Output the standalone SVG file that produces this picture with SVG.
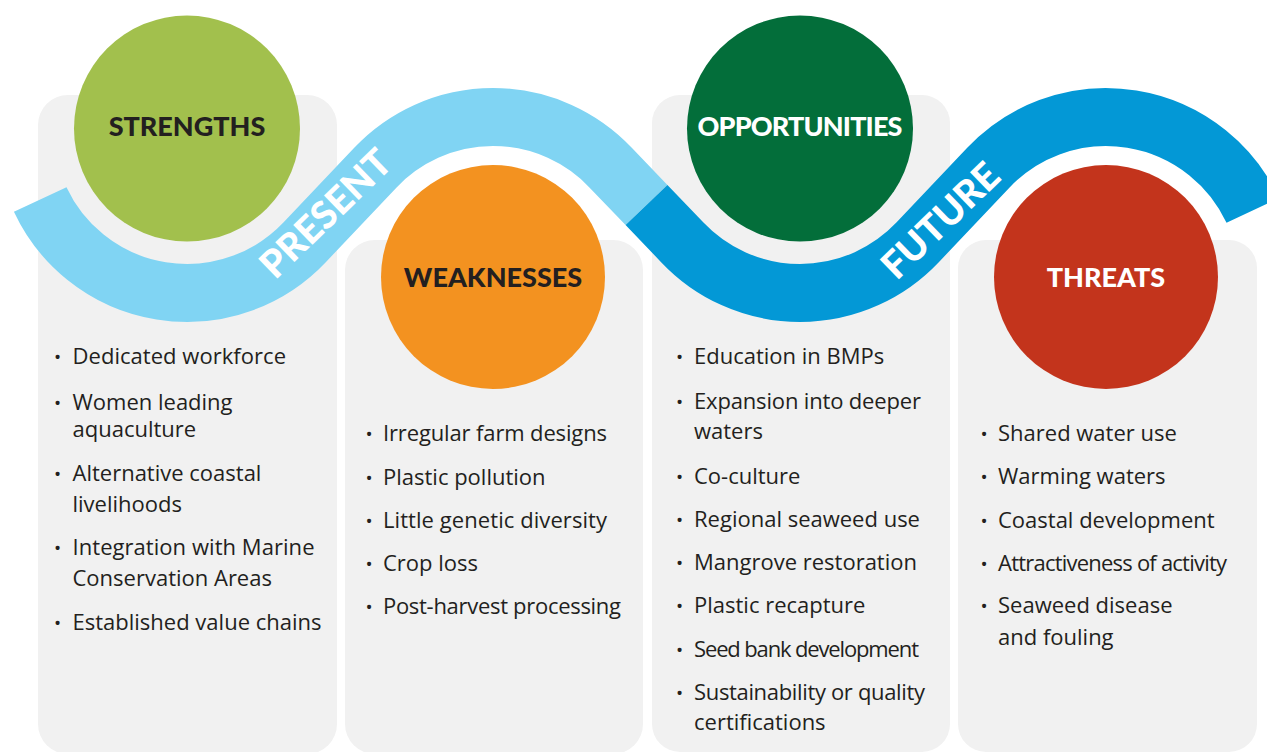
<svg xmlns="http://www.w3.org/2000/svg" width="1267" height="752" viewBox="0 0 1267 752">
<style>
.panel{fill:#f1f1f1}
.band{fill:none;stroke-width:58;stroke-linecap:butt}
.head{font-family:Lato,"Open Sans","Liberation Sans",sans-serif;font-weight:900;font-size:27px;text-anchor:middle}
.wave{font-family:Lato,"Open Sans","Liberation Sans",sans-serif;font-weight:900;font-size:38px;fill:#ffffff;text-anchor:middle}
.body{font-family:"Open Sans",Lato,"Liberation Sans",sans-serif;font-size:22px;fill:#231f20}
.b{font-size:19px}
</style>
<rect width="1267" height="752" fill="#ffffff"/>
<g id="panels">
<rect id="panel-strengths" class="panel" x="38" y="95" width="299" height="659" rx="30"/>
<rect id="panel-weaknesses" class="panel" x="345" y="240" width="298" height="514" rx="30"/>
<rect id="panel-opportunities" class="panel" x="652" y="95" width="298" height="657" rx="28"/>
<rect id="panel-threats" class="panel" x="958" y="240" width="299" height="512" rx="28"/>
</g>
<g id="connectors">
<path id="band-present" class="band" stroke="#80d4f3" d="M40.2 199.5 A162 162 0 0 0 304.7 242.3 L375.3 167.7 A162 162 0 0 1 610.7 167.7 L646.5 205"/>
<path id="band-future" class="band" stroke="#0398d6" d="M646.5 205 L682.3 242.3 A162 162 0 0 0 917.7 242.3 L988.3 167.7 A162 162 0 0 1 1252.8 210.5"/>
<text class="wave" transform="translate(325 213) rotate(-44)" y="14">PRESENT</text>
<text class="wave" transform="translate(940 220) rotate(-44)" y="14">FUTURE</text>
</g>
<g id="strengths">
<circle cx="187" cy="128.5" r="113" fill="#a2c04d"/>
<text class="head" x="187" y="136" fill="#231f20">STRENGTHS</text>
<text class="body" y="364.3"><tspan class="b" x="54">•</tspan><tspan x="72.5" textLength="213.5">Dedicated workforce</tspan></text>
<text class="body" y="409.5"><tspan class="b" x="54">•</tspan><tspan x="72.5">Women leading</tspan><tspan x="72.5" y="437">aquaculture</tspan></text>
<text class="body" y="480.7"><tspan class="b" x="54">•</tspan><tspan x="72.5">Alternative coastal</tspan><tspan x="72.5" y="511.7">livelihoods</tspan></text>
<text class="body" y="555"><tspan class="b" x="54">•</tspan><tspan x="72.5" textLength="242">Integration with Marine</tspan><tspan x="72.5" y="586">Conservation Areas</tspan></text>
<text class="body" y="630"><tspan class="b" x="54">•</tspan><tspan x="72.5" textLength="249">Established value chains</tspan></text>
</g>
<g id="weaknesses">
<circle cx="493" cy="277" r="112" fill="#f39220"/>
<text class="head" x="493" y="287" fill="#231f20">WEAKNESSES</text>
<text class="body" y="440.7"><tspan class="b" x="365.5">•</tspan><tspan x="383" textLength="224">Irregular farm designs</tspan></text>
<text class="body" y="485"><tspan class="b" x="365.5">•</tspan><tspan x="383">Plastic pollution</tspan></text>
<text class="body" y="528"><tspan class="b" x="365.5">•</tspan><tspan x="383" textLength="224">Little genetic diversity</tspan></text>
<text class="body" y="571"><tspan class="b" x="365.5">•</tspan><tspan x="383">Crop loss</tspan></text>
<text class="body" y="614"><tspan class="b" x="365.5">•</tspan><tspan x="383" textLength="238">Post-harvest processing</tspan></text>
</g>
<g id="opportunities">
<circle cx="800" cy="128.5" r="113" fill="#036e3a"/>
<text class="head" x="800" y="136" fill="#ffffff" textLength="205">OPPORTUNITIES</text>
<text class="body" y="364.3"><tspan class="b" x="676">•</tspan><tspan x="694">Education in BMPs</tspan></text>
<text class="body" y="409.3"><tspan class="b" x="676">•</tspan><tspan x="694" textLength="227">Expansion into deeper</tspan><tspan x="694" y="439.3">waters</tspan></text>
<text class="body" y="484"><tspan class="b" x="676">•</tspan><tspan x="694">Co-culture</tspan></text>
<text class="body" y="526.5"><tspan class="b" x="676">•</tspan><tspan x="694">Regional seaweed use</tspan></text>
<text class="body" y="569.5"><tspan class="b" x="676">•</tspan><tspan x="694">Mangrove restoration</tspan></text>
<text class="body" y="613"><tspan class="b" x="676">•</tspan><tspan x="694">Plastic recapture</tspan></text>
<text class="body" y="656.5"><tspan class="b" x="676">•</tspan><tspan x="694" textLength="225">Seed bank development</tspan></text>
<text class="body" y="699.5"><tspan class="b" x="676">•</tspan><tspan x="694" textLength="231">Sustainability or quality</tspan><tspan x="694" y="730">certifications</tspan></text>
</g>
<g id="threats">
<circle cx="1106" cy="277" r="112" fill="#c3341c"/>
<text class="head" x="1106" y="287" fill="#ffffff">THREATS</text>
<text class="body" y="440.7"><tspan class="b" x="980.5">•</tspan><tspan x="998">Shared water use</tspan></text>
<text class="body" y="484"><tspan class="b" x="980.5">•</tspan><tspan x="998">Warming waters</tspan></text>
<text class="body" y="527.7"><tspan class="b" x="980.5">•</tspan><tspan x="998">Coastal development</tspan></text>
<text class="body" y="570.7"><tspan class="b" x="980.5">•</tspan><tspan x="998" textLength="229">Attractiveness of activity</tspan></text>
<text class="body" y="613.3"><tspan class="b" x="980.5">•</tspan><tspan x="998">Seaweed disease</tspan><tspan x="998" y="645">and fouling</tspan></text>
</g>
</svg>
